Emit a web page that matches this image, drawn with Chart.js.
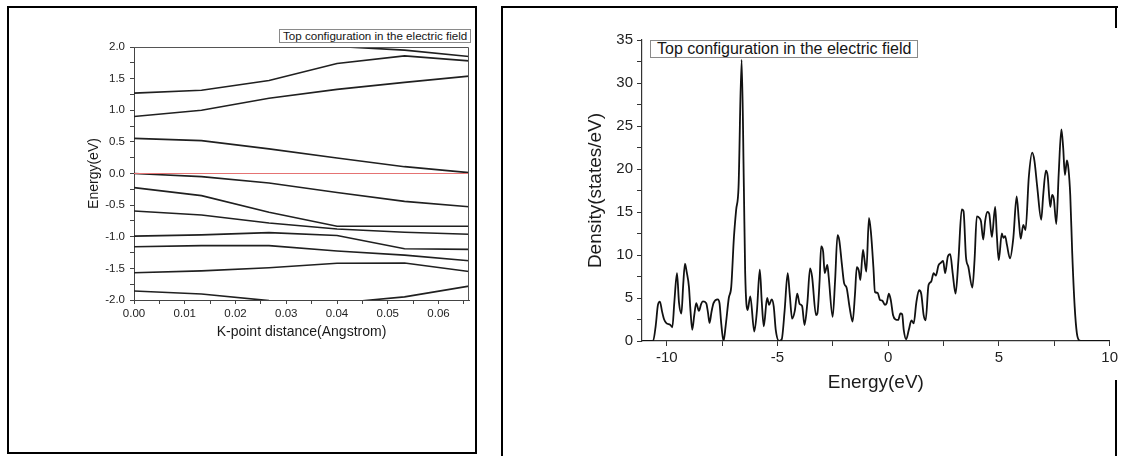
<!DOCTYPE html>
<html>
<head>
<meta charset="utf-8">
<script src="https://cdn.jsdelivr.net/npm/chart.js@4.4.1/dist/chart.umd.min.js"></script>
<style>
  html, body { margin: 0; padding: 0; background: #fff; width: 1121px; height: 456px; overflow: hidden; }
  body { position: relative; font-family: "Liberation Sans", Arial, sans-serif; }
  .rule { position: absolute; background: #000; }
  .box { position: absolute; border: 2px solid #000; box-sizing: border-box; }
  .wrap { position: absolute; }
  .key { position: absolute; border: 1px solid #8a8a8a; background: #fff; color: #151515; white-space: nowrap; box-sizing: border-box; }
</style>
</head>
<body>
<div class="box" style="left:7px;top:6px;width:470px;height:448px"></div>
<div class="rule" style="left:501px;top:6px;width:617px;height:2px"></div>
<div class="rule" style="left:501px;top:6px;width:2px;height:450px"></div>
<div class="rule" style="left:1115px;top:6px;width:2px;height:22px"></div>
<div class="rule" style="left:1115px;top:380px;width:2px;height:76px"></div>

<div class="wrap" style="left:10px;top:9px;width:464px;height:443px"><canvas id="bandChart" width="464" height="443"></canvas></div>
<div class="wrap" style="left:504px;top:9px;width:617px;height:447px"><canvas id="dosChart" width="617" height="447"></canvas></div>

<div class="key" style="left:279px;top:29px;height:14px;font-size:11.6px;line-height:12px;padding:0 3px">Top configuration in the electric field</div>
<div class="key" style="left:650px;top:40px;height:18px;font-size:16px;line-height:16px;padding:0 6px">Top configuration in the electric field</div>

<script>
// ---- band structure along the k-path ----
const kPoints = [0, 0.0133, 0.0266, 0.04, 0.0533, 0.066];
const band01 = [2.22, 2.16, 2.08, 2.01, 1.95, 1.85];
const band02 = [1.27, 1.315, 1.47, 1.74, 1.86, 1.78];
const band03 = [0.90, 1.00, 1.19, 1.33, 1.44, 1.54];
const band04 = [0.556, 0.52, 0.39, 0.245, 0.108, 0.013];
const band05 = [0.0, -0.05, -0.15, -0.30, -0.44, -0.525];
const band06 = [-0.224, -0.35, -0.614, -0.835, -0.835, -0.835];
const band07 = [-0.593, -0.656, -0.783, -0.877, -0.93, -0.96];
const band08 = [-0.99, -0.97, -0.935, -0.98, -1.19, -1.20];
const band09 = [-1.157, -1.14, -1.14, -1.225, -1.29, -1.38];
const band10 = [-1.57, -1.54, -1.49, -1.42, -1.415, -1.55];
const band11 = [-1.858, -1.905, -2.01, -2.05, -1.95, -1.78];
const fermiLevel = 0;

const kTickValues = [0, 0.01, 0.02, 0.03, 0.04, 0.05, 0.06];
const kTickLabels = ['0.00', '0.01', '0.02', '0.03', '0.04', '0.05', '0.06'];
const energyTickValues = [-2, -1.5, -1, -0.5, 0, 0.5, 1, 1.5, 2];
const energyTickLabels = ['-2.0', '-1.5', '-1.0', '-0.5', '0.0', '0.5', '1.0', '1.5', '2.0'];

// ---- total density of states: [energy (eV), states/eV] ----
const dosEnergy = [
  -11.1, -10.62, -10.5, -10.4, -10.31, -10.22, -10.12, -10.01, -9.85, -9.75,
  -9.66, -9.54, -9.45, -9.34, -9.26, -9.18, -9.1, -9.0, -8.93, -8.85,
  -8.76, -8.67, -8.55, -8.45, -8.37, -8.22, -8.14, -8.07, -7.98, -7.89,
  -7.7, -7.62, -7.54, -7.44, -7.34, -7.2, -7.09, -6.97, -6.87, -6.76,
  -6.62, -6.52, -6.46, -6.35, -6.23, -6.05, -5.93, -5.8, -5.71, -5.62,
  -5.47, -5.38, -5.26, -5.17, -5.08, -4.93, -4.81, -4.68, -4.54, -4.45,
  -4.34, -4.22, -4.11, -4.0, -3.89, -3.78, -3.65, -3.53, -3.44, -3.26,
  -3.2, -3.1, -3.03, -2.94, -2.87, -2.75, -2.69, -2.51, -2.4, -2.29,
  -2.21, -2.09, -1.99, -1.88, -1.75, -1.61, -1.5, -1.42, -1.33, -1.26,
  -1.14, -1.08, -0.99, -0.87, -0.78, -0.67, -0.6, -0.48, -0.37, -0.27,
  -0.15, -0.07, 0.03, 0.12, 0.22, 0.33, 0.45, 0.55, 0.63, 0.7,
  0.81, 0.93, 1.05, 1.15, 1.27, 1.39, 1.49, 1.6, 1.69, 1.82,
  1.94, 2.05, 2.15, 2.27, 2.38, 2.48, 2.57, 2.69, 2.8, 2.91,
  3.04, 3.17, 3.32, 3.4, 3.51, 3.62, 3.8, 3.9, 4.0, 4.12,
  4.19, 4.29, 4.38, 4.48, 4.56, 4.68, 4.83, 4.9, 4.99, 5.13,
  5.2, 5.28, 5.36, 5.5, 5.65, 5.8, 5.9, 5.98, 6.1, 6.2,
  6.35, 6.5, 6.6, 6.73, 6.91, 7.0, 7.12, 7.2, 7.32, 7.4,
  7.48, 7.59, 7.7, 7.82, 7.9, 7.98, 8.07, 8.14, 8.22, 8.31,
  8.42, 8.52, 8.64, 8.75, 10
];
const dosStates = [
  0, 0, 1.8, 4.2, 4.57, 3.5, 2.5, 2.05, 1.9, 1.6,
  4.5, 7.9, 4.5, 3.2, 6.5, 9.0, 8.0, 6.3, 3.5, 1.3,
  3.0, 4.4, 3.5, 4.3, 4.6, 4.4, 3.3, 2.1, 3.4, 4.4,
  4.85, 4.4, 2.0, 0, 1.8, 5.0, 6.3, 12, 15.2, 17.9,
  32.7, 18, 7.9, 3.6, 5.2, 1.1, 3.5, 8.3, 4.5, 1.7,
  5.0, 4.2, 4.85, 4.0, 1.3, 0, 0.2, 3.5, 7.9, 5.5,
  2.6, 3.5, 5.5, 4.3, 4.07, 1.86, 4.5, 8.45, 7.5, 3.0,
  3.2, 7.0, 11.0, 10.4, 7.9, 8.85, 7.5, 2.8, 7.0, 12.3,
  11.7, 8.85, 6.7, 6.2, 4.0, 2.25, 5.5, 8.6, 8.2, 7.1,
  10.6, 9.6, 8.06, 14.3, 12.6, 8.6, 5.7, 5.6, 4.77, 4.7,
  4.2, 4.4, 5.5, 4.7, 3.0, 2.5, 2.45, 3.2, 3.1, 1.3,
  0.2, 1.3, 2.4, 2.05, 4.5, 5.9, 5.5, 3.0, 2.4, 6.5,
  6.9, 7.9, 7.6, 8.8, 9.1, 9.3, 7.9, 9.8, 10.1, 7.9,
  5.5, 9.4, 15.3, 15.1, 9.8, 8.6, 6.2, 9.5, 14.5, 14.3,
  13.9, 11.8, 14.0, 15.0, 14.8, 12.1, 15.6, 12.5, 9.4, 12.5,
  12.0, 12.2, 11.2, 9.6, 12.0, 16.8, 14.0, 11.9, 13.5, 12.9,
  19.1, 21.9, 21.0, 17.9, 14.1, 17.0, 19.8, 19.2, 15.6, 17.0,
  16.5, 13.6, 19.5, 24.6, 22.5, 19.3, 21.0, 20.0, 17.0, 10.2,
  4.0, 0.9, 0.05, 0, 0
];
const dosXTickValues = [-10, -5, 0, 5, 10];
const dosXTickLabels = ['-10', '-5', '0', '5', '10'];
const dosYTickValues = [0, 5, 10, 15, 20, 25, 30, 35];
const dosYTickLabels = ['0', '5', '10', '15', '20', '25', '30', '35'];

Chart.defaults.font.family = '"Liberation Sans", Arial, sans-serif';
Chart.defaults.color = '#1a1a1a';

// labelled ticks plus an unlabelled minor tick half way between each pair
function ticksWithMinors(values, half, max) {
  const out = [];
  values.forEach(v => {
    out.push({ value: v });
    if (v + half <= max + 1e-9) out.push({ value: v + half });
  });
  return out;
}
function labelFor(values, labels) {
  return v => {
    const i = values.findIndex(t => Math.abs(t - v) < 1e-9);
    return i >= 0 ? labels[i] : '';
  };
}

// thin box line along the top and right of the band plot
const plotFrame = {
  id: 'plotFrame',
  afterDatasetsDraw(chart, args, opts) {
    if (!opts.show) return;
    const { ctx, chartArea: a } = chart;
    const t = Math.round(a.top) + 0.5, r = Math.round(a.right) - 0.5;
    ctx.save();
    ctx.strokeStyle = opts.color;
    ctx.lineWidth = 1;
    ctx.beginPath();
    ctx.moveTo(Math.round(a.left), t);
    ctx.lineTo(r, t);
    ctx.lineTo(r, Math.round(a.bottom));
    ctx.stroke();
    ctx.restore();
  }
};

const bandSeries = [band01, band02, band03, band04, band05, band06, band07, band08, band09, band10, band11];
const bandDatasets = bandSeries.map(b => ({
  data: kPoints.map((k, i) => ({ x: k, y: b[i] })),
  borderColor: '#202020',
  borderWidth: 1.6,
  pointRadius: 0,
  tension: 0
}));
bandDatasets.unshift({
  data: [{ x: kPoints[0], y: fermiLevel }, { x: kPoints[kPoints.length - 1], y: fermiLevel }],
  borderColor: '#e57373',
  borderWidth: 1,
  pointRadius: 0
});

new Chart(document.getElementById('bandChart'), {
  type: 'line',
  data: { datasets: bandDatasets },
  plugins: [plotFrame],
  options: {
    responsive: false,
    animation: false,
    devicePixelRatio: 1,
    layout: { padding: { left: 0, top: 38, right: 5, bottom: 107 } },
    plugins: { legend: { display: false }, tooltip: { enabled: false }, plotFrame: { show: true, color: '#555' } },
    scales: {
      x: {
        type: 'linear', min: 0, max: 0.066,
        afterBuildTicks: s => { s.ticks = ticksWithMinors(kTickValues, 0.005, 0.066); },
        afterFit: s => { s.height = 45; },
        ticks: { autoSkip: false, maxRotation: 0, padding: 3, font: { size: 11.5 }, color: '#222', callback: labelFor(kTickValues, kTickLabels) },
        grid: { drawOnChartArea: false, drawTicks: true, tickLength: 4, tickColor: '#444' },
        border: { color: '#444', width: 1 },
        title: { display: true, text: 'K-point distance(Angstrom)', font: { size: 14 }, color: '#1a1a1a', padding: { top: 0, bottom: 4 } }
      },
      y: {
        type: 'linear', min: -2, max: 2,
        afterBuildTicks: s => { s.ticks = ticksWithMinors(energyTickValues, 0.25, 2); },
        afterFit: s => { s.width = 124; },
        ticks: { autoSkip: false, padding: 5, font: { size: 11.5 }, color: '#222', callback: labelFor(energyTickValues, energyTickLabels) },
        grid: { drawOnChartArea: false, drawTicks: true, tickLength: 4, tickColor: '#444' },
        border: { color: '#444', width: 1 },
        title: { display: true, text: 'Energy(eV)', font: { size: 14 }, color: '#1a1a1a', padding: { top: 76, bottom: 0 } }
      }
    }
  }
});

new Chart(document.getElementById('dosChart'), {
  type: 'line',
  data: {
    datasets: [{
      data: dosEnergy.map((e, i) => ({ x: e, y: dosStates[i] })),
      borderColor: '#111',
      borderWidth: 1.8,
      pointRadius: 0,
      cubicInterpolationMode: 'monotone'
    }]
  },
  options: {
    responsive: false,
    animation: false,
    devicePixelRatio: 1,
    layout: { padding: { left: 0, top: 31, right: 8, bottom: 60 } },
    plugins: { legend: { display: false }, tooltip: { enabled: false } },
    scales: {
      x: {
        type: 'linear', min: -11.12, max: 10,
        afterBuildTicks: s => { s.ticks = ticksWithMinors(dosXTickValues, 2.5, 10); },
        afterFit: s => { s.height = 55; },
        ticks: { autoSkip: false, maxRotation: 0, padding: 3, font: { size: 15 }, color: '#222', callback: labelFor(dosXTickValues, dosXTickLabels) },
        grid: { drawOnChartArea: false, drawTicks: true, tickLength: 5, tickColor: '#333' },
        border: { color: '#333', width: 1.2 },
        title: { display: true, text: 'Energy(eV)', font: { size: 19 }, color: '#1a1a1a', padding: { top: 0, bottom: 2 } }
      },
      y: {
        type: 'linear', min: 0, max: 35,
        afterBuildTicks: s => { s.ticks = ticksWithMinors(dosYTickValues, 2.5, 35); },
        afterFit: s => { s.width = 138; },
        ticks: { autoSkip: false, padding: 4, font: { size: 15 }, color: '#222', callback: labelFor(dosYTickValues, dosYTickLabels) },
        grid: { drawOnChartArea: false, drawTicks: true, tickLength: 5, tickColor: '#333' },
        border: { color: '#333', width: 1.2 },
        title: { display: true, text: 'Density(states/eV)', font: { size: 19 }, color: '#1a1a1a', padding: { top: 80, bottom: 0 } }
      }
    }
  }
});
</script>
</body>
</html>
